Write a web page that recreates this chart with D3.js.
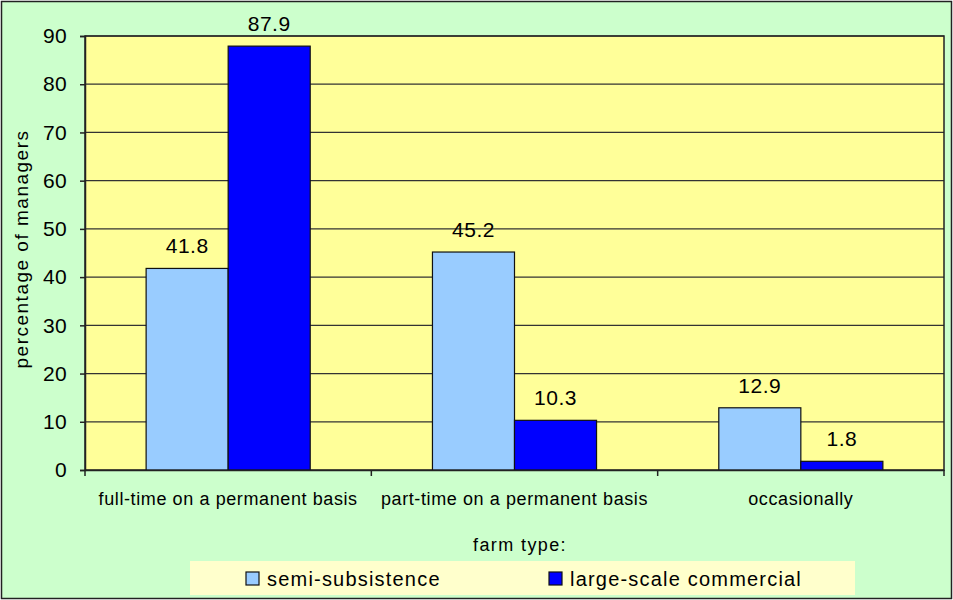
<!DOCTYPE html>
<html><head><meta charset="utf-8">
<script src="https://cdn.jsdelivr.net/npm/d3@7"></script>
<style>
html,body{margin:0;padding:0;background:#fff;}
text{font-family:Arial,"Liberation Sans",sans-serif;fill:#000;}
</style></head>
<body>
<svg id="chart" width="953" height="600"></svg>
<script>
const categories = ["full-time on a permanent basis","part-time on a permanent basis","occasionally"];
const seriesNames = ["semi-subsistence","large-scale commercial"];
const semiSubsistence = [41.8, 45.2, 12.9];
const largeScale = [87.9, 10.3, 1.8];
const yTicks = [0,10,20,30,40,50,60,70,80,90];
const colors = ["#99CCFF","#0000FF"];

const svg = d3.select("#chart");
const W = 953, H = 600;
const plot = {left:85, top:36, right:944, bottom:470};

svg.append("rect").attr("x",1.5).attr("y",1.5).attr("width",W-3).attr("height",H-3)
  .attr("fill","#CCFFCC").attr("stroke","#222").attr("stroke-width",1.5);

svg.append("rect").attr("x",plot.left).attr("y",plot.top)
  .attr("width",plot.right-plot.left).attr("height",plot.bottom-plot.top)
  .attr("fill","#FFFF99");

const x0 = d3.scaleBand().domain(categories).range([plot.left, plot.right]).paddingInner(0).paddingOuter(0);
const x1 = d3.scaleBand().domain(seriesNames).range([0, x0.bandwidth()]).paddingInner(0).paddingOuter(0.745);
const y = d3.scaleLinear().domain([0,90]).range([plot.bottom, plot.top]);

// gridlines
svg.append("g").selectAll("line").data(yTicks.filter(d=>d>0)).join("line")
  .attr("x1",plot.left).attr("x2",plot.right)
  .attr("y1",d=>y(d)).attr("y2",d=>y(d))
  .attr("stroke","#333").attr("stroke-width",1.2);

// plot border
svg.append("rect").attr("x",plot.left).attr("y",plot.top)
  .attr("width",plot.right-plot.left).attr("height",plot.bottom-plot.top)
  .attr("fill","none").attr("stroke","#222").attr("stroke-width",1.5);

const data = categories.map((c,i)=>({cat:c, vals:[semiSubsistence[i], largeScale[i]]}));

const groups = svg.append("g").selectAll("g").data(data).join("g")
  .attr("transform",d=>`translate(${x0(d.cat)},0)`);

groups.selectAll("rect").data(d=>d.vals.map((v,j)=>({s:seriesNames[j], v, j}))).join("rect")
  .attr("x",d=>x1(d.s)).attr("width",x1.bandwidth())
  .attr("y",d=>y(d.v)).attr("height",d=>y(0)-y(d.v))
  .attr("fill",d=>colors[d.j]).attr("stroke","#111").attr("stroke-width",1.2);

groups.selectAll("text.val").data(d=>d.vals.map((v,j)=>({s:seriesNames[j], v, j}))).join("text")
  .attr("class","val")
  .attr("x",d=>x1(d.s)+x1.bandwidth()/2).attr("y",d=>y(d.v)-15)
  .attr("text-anchor","middle").style("font-size","21px").style("letter-spacing","0.5px")
  .text(d=>d.v.toFixed(1));

// y axis
const yAxis = d3.axisLeft(y).tickValues(yTicks).tickSize(5).tickPadding(13);
const gy = svg.append("g").attr("transform",`translate(${plot.left},0)`).call(yAxis);
gy.select(".domain").attr("stroke","#222").attr("stroke-width",1.5);
gy.selectAll(".tick line").attr("stroke","#222").attr("stroke-width",1.5);
gy.selectAll(".tick text").style("font-size","21px").style("letter-spacing","0.3px")
  .style("font-family","Arial, 'Liberation Sans', sans-serif").attr("fill","#000");

// x axis
const xAxis = d3.axisBottom(x0).tickSize(0).tickPadding(22);
const gx = svg.append("g").attr("transform",`translate(0,${plot.bottom})`).call(xAxis);
gx.select(".domain").attr("stroke","#222").attr("stroke-width",1.5);
gx.selectAll(".tick text").style("font-size","18px").style("letter-spacing","0.6px")
  .style("font-family","Arial, 'Liberation Sans', sans-serif").attr("fill","#000");
// category boundary ticks
const bounds = categories.map(c=>x0(c)).concat([x0(categories[categories.length-1])+x0.bandwidth()]);
gx.selectAll("line.bnd").data(bounds).join("line").attr("class","bnd")
  .attr("x1",d=>d).attr("x2",d=>d).attr("y1",0).attr("y2",6)
  .attr("stroke","#222").attr("stroke-width",1.5);

// y title
svg.append("text").attr("transform",`translate(28,249) rotate(-90)`)
  .attr("text-anchor","middle").style("font-size","19px").style("letter-spacing","1.5px")
  .text("percentage of managers");

// x title
svg.append("text").attr("x",520).attr("y",551).attr("text-anchor","middle")
  .style("font-size","18px").style("letter-spacing","1.4px").text("farm type:");

// legend
const lg = svg.append("g");
lg.append("rect").attr("x",190).attr("y",561).attr("width",665).attr("height",34).attr("fill","#FFFFCC");
const legX = [246, 549];
seriesNames.forEach((s,i)=>{
  lg.append("rect").attr("x",legX[i]).attr("y",572).attr("width",13).attr("height",13)
    .attr("fill",colors[i]).attr("stroke","#111").attr("stroke-width",1.2);
  lg.append("text").attr("x",legX[i]+21).attr("y",586).style("font-size","20px").style("letter-spacing","1.2px").text(s);
});
</script>
</body></html>
